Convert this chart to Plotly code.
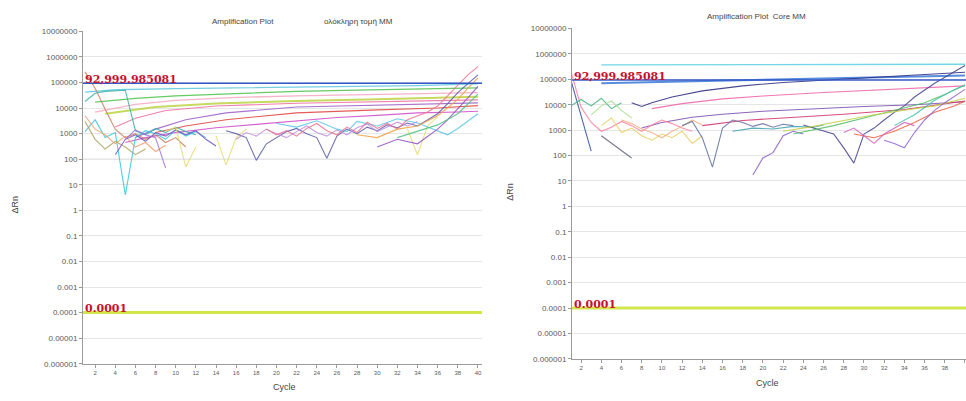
import math
import plotly.graph_objects as go

# ---------------------------------------------------------------- data
THRESHOLD = 92999.985081          # amplification threshold (ΔRn)
BASELINE_THRESHOLD = 0.0001       # lower threshold line
GUIDE_LEVEL = 100                 # highlighted reference level

CYCLE_TICKS = list(range(2, 41, 2))
RN_TICK_VALUES = [1e-6, 1e-5, 1e-4, 1e-3, 1e-2, 1e-1, 1, 10, 100, 1000,
                  10000, 100000, 1000000, 10000000]
RN_TICK_LABELS = ["0.000001", "0.00001", "0.0001", "0.001", "0.01", "0.1",
                  "1", "10", "100", "1000", "10000", "100000", "1000000",
                  "10000000"]

LEFT_TITLE = "Amplification Plot"
LEFT_SUBTITLE = "ολόκληρη τομή MM"
RIGHT_TITLE = "Amplification Plot  Core MM"

# Left panel curves: (cycle, ΔRn) pairs; None breaks the curve
left_cyan_plateau = [(1, 42000), (4, 52000), (10, 58000), (16, 62000), (22, 66000),
                     (28, 70000), (34, 75000), (40, 88000)]
left_green = [(2, 17000), (6, 24000), (10, 30000), (16, 38000), (22, 45000),
              (28, 50000), (34, 55000), (40, 62000)]
left_rose = [(2, 7000), (6, 14000), (10, 20000), (16, 26000), (22, 30000),
             (28, 33000), (34, 36000), (40, 40000)]
left_lime = [(3, 6000), (8, 11000), (14, 15000), (22, 19000), (30, 22000),
             (36, 25000), (40, 28000)]
left_pink = [(4, 1800), (6, 4000), (9, 8000), (14, 12000), (22, 15500),
             (30, 18000), (36, 19000), (40, 21000)]
left_violet = [(6, 700), (8, 1500), (11, 3500), (15, 6500), (22, 11000),
               (30, 13000), (36, 14000), (40, 16000)]
left_red = [(8, 1100), (11, 2000), (15, 3500), (22, 6500), (30, 8500),
            (36, 10000), (40, 12500)]
left_magenta = [(5, 450), (7, 700), (10, 1100), (14, 1700), (18, 2300), (22, 3200),
                (26, 4300), (30, 5200), (34, 6500), (38, 7000), (40, 7500)]
left_brown = [(1, 260000), (2, 60000), (3, 9000), (4, 1500), (5, 700), (6, 1000),
              (7, 600), (8, 900), (9, 450), (10, 700), (11, 300)]
left_teal = [(1, 18000), (2, 38000), (3, 45000), (4, 48000), (5, 50000), (6, 1300),
             (7, 900), (8, 1600), (9, 1100), (10, 1800), (11, 1200), (12, 900)]
left_cyan_spike = [(1, 1200), (2, 3500), (3, 700), (4, 1100), (5, 4), (6, 700),
                   (7, 1300), (8, 1000), (9, 600), (10, 1400), (11, 800), (12, 1200),
                   (13, 700)]
left_salmon = [(1, 5000), (2, 1500), (3, 900), (4, 400), (5, 800), (6, 300),
               (7, 450), (8, 200), (9, 350)]
left_olive = [(1, 3000), (2, 600), (3, 250), (4, 500), (5, 300), (6, 150), (7, 250)]
left_purple_noise = [(4, 150), (5, 600), (6, 900), (7, 500), (8, 1100), (9, 800),
                     (10, 1400), (11, 900), (12, 1300), (13, 600), (14, 330)]
left_violet_dip = [(5, 600), (6, 1400), (7, 900), (8, 700), (9, 45)]
left_yellow = [(9, 1200), (10, 1800), (11, 50), (12, 300), (13, None), (14, 800),
               (15, 60), (16, 700), (17, 1500), (18, None), (33, 1500), (34, 150),
               (35, 2000), (36, 4500)]
left_slate = [(15, 1300), (16, 1000), (17, 700), (18, 90), (19, 400), (20, 700),
              (21, 1200), (22, 1600), (23, 1000), (24, 700), (25, 110), (26, 800),
              (27, 1500), (28, 1000), (29, 1800), (30, 1300), (31, 2200), (32, 1700),
              (33, 2600), (34, 2000), (35, 3500), (36, 6000), (37, 15000),
              (38, 40000), (39, 90000), (40, 200000)]
left_lavender = [(16, 600), (17, 1100), (18, 800), (19, 1500), (20, 1000), (21, 700),
                 (22, 1200), (23, 2000), (24, 1100), (25, 800), (26, 1400), (27, 900),
                 (28, 1700), (29, 2400), (30, 1200), (31, 1800), (32, 2800),
                 (33, 2000), (34, 3000)]
left_cyan_noise = [(20, 2500), (22, 1800), (24, 3200), (26, 1500), (27, 1200),
                   (28, 3000), (30, 2000), (32, 3800), (34, 2600), (35, 1800),
                   (36, 1300), (37, 900), (38, 1600), (39, 3000), (40, 6000)]
left_pink_noise = [(19, 1500), (20, 900), (21, 1300), (22, 800), (23, 1600), (24, 2500),
                   (25, 1300), (26, 900), (27, 1800), (28, 1100), (29, 2800),
                   (30, 1600), (31, 2500), (32, 1500), (33, 3500), (34, 5000),
                   (35, 7000), (36, 12000), (37, 30000), (38, 80000), (39, 200000),
                   (40, 420000)]
left_orange_rise = [(28, 900), (30, 700), (32, 1500), (34, 2000), (36, 5000),
                    (38, 22000), (39, 60000), (40, 150000)]
left_purple_rise = [(30, 300), (32, 600), (34, 400), (35, 800), (36, 1500), (37, 3500),
                    (38, 9000), (39, 25000), (40, 70000)]
left_green_rise = [(32, 700), (34, 1200), (36, 2200), (38, 6000), (39, 15000),
                   (40, 35000)]

# Right panel curves
right_cyan_flat = [(4, 370000), (10, 375000), (20, 380000), (30, 385000), (40, 390000)]
right_blue = [(4, 70000), (8, 76000), (14, 85000), (20, 95000), (28, 110000),
              (34, 125000), (40, 140000)]
right_navy = [(7, 12000), (8, 8500), (9, 12000), (11, 20000), (14, 35000),
              (18, 55000), (22, 75000), (28, 100000), (34, 140000), (40, 190000)]
right_pink = [(9, 7000), (12, 11000), (16, 17000), (20, 22000), (26, 30000),
              (32, 40000), (40, 55000)]
right_purple = [(8, 1200), (10, 2000), (13, 3200), (16, 4200), (20, 5500), (25, 7000),
                (30, 8500), (35, 10000), (40, 13000)]
right_crimson = [(14, 1500), (18, 2400), (22, 3000), (28, 4200), (34, 6500),
                 (40, 14000)]
right_navy_drop = [(1, 90000), (2, 4000), (3, 150)]
right_gray_drop = [(4, 600), (5, 300), (6, 150), (7, 80)]
right_pink_drop = [(1, 200000), (2, 8000), (3, 2000), (4, 900), (5, 1300), (6, 2200),
                   (7, 1500), (8, 900), (9, 1600), (10, 2500), (11, 1800), (12, 1200),
                   (13, 900)]
right_green_squiggle = [(1, 9000), (2, 16000), (3, 9000), (4, 18000), (5, 7000),
                        (6, 12000)]
right_lightgreen = [(3, 4000), (4, 9000), (5, 14000), (6, 6000), (7, 3000)]
right_yellow = [(4, 1500), (5, 3000), (6, 800), (7, 1200), (8, 600), (9, 400),
                (10, 700), (11, 500), (12, 900), (13, 300), (14, 600)]
right_peach = [(6, 2500), (7, 1800), (8, 1100), (9, 800), (10, 500), (11, 900),
               (12, 1400), (13, 2500), (14, 1600)]
right_slate_v = [(12, 1500), (13, 2200), (14, 500), (15, 35), (16, 1200), (17, 2500),
                 (18, 2000), (19, 1400), (20, 1800), (21, 1300), (22, 1700), (23, 1500)]
right_purple_low = [(19, 17), (20, 80), (21, 130), (22, 600), (23, 900), (24, 700)]
right_teal_mid = [(17, 900), (19, 1200), (21, 1100), (23, 1400), (25, 1300), (26, 1600)]
right_navy_v = [(24, 1600), (25, 1200), (26, 900), (27, 700), (28, 200), (29, 50),
                (30, 700), (31, 1200), (32, 2500), (33, 5000), (34, 9000),
                (35, 20000), (37, 70000), (39, 200000), (40, 350000)]
right_green_rise = [(23, 700), (25, 1000), (27, 1500), (30, 3000), (33, 6000),
                    (36, 12000), (38, 25000), (40, 60000)]
right_lime_rise = [(22, 900), (25, 1400), (28, 2400), (31, 4000), (34, 6000),
                   (37, 9000), (40, 18000)]
right_teal_rise = [(33, 1500), (35, 4000), (37, 15000), (39, 40000), (40, 60000)]
right_orange_rise = [(29, 700), (31, 500), (33, 900), (35, 2000), (37, 5000),
                     (39, 9000), (40, 14000)]
right_violet_rise = [(32, 400), (33, 300), (34, 200), (35, 800), (36, 2500),
                     (37, 6000), (38, 12000), (40, 40000)]
right_magenta_noise = [(28, 800), (29, 1200), (30, 600), (31, 300), (32, 700),
                       (33, 1200), (34, 2000), (35, 1500)]

# ---------------------------------------------------------------- styling
LEFT_CURVES = [
    (left_cyan_plateau, "#5cc8dc", 1.3), (left_green, "#4cc24c", 1.3),
    (left_rose, "#f4a8c0", 1.3), (left_lime, "#bcd444", 2.0),
    (left_pink, "#f06aa0", 1.1), (left_violet, "#9a5cc4", 1.1),
    (left_red, "#e0403a", 1.1), (left_magenta, "#d048c8", 1.1),
    (left_brown, "#c88060", 1.1), (left_teal, "#3ab0a8", 1.1),
    (left_cyan_spike, "#30c8e0", 1.1), (left_salmon, "#f0a070", 1.1),
    (left_olive, "#b0a060", 1.1), (left_purple_noise, "#7050c0", 1.1),
    (left_violet_dip, "#a070d8", 1.1), (left_yellow, "#e6dc70", 1.1),
    (left_slate, "#5a5aa8", 1.1), (left_lavender, "#c090e0", 1.1),
    (left_cyan_noise, "#58c4e8", 1.1), (left_pink_noise, "#f07090", 1.1),
    (left_orange_rise, "#f0a040", 1.1), (left_purple_rise, "#9050c0", 1.1),
    (left_green_rise, "#50c080", 1.1),
]
RIGHT_CURVES = [
    (right_cyan_flat, "#58d0e4", 1.3), (right_blue, "#3c78d8", 2.0),
    (right_navy, "#2a2a80", 1.1), (right_pink, "#f060a8", 1.1),
    (right_purple, "#7a4cb0", 1.1), (right_crimson, "#d0306a", 1.1),
    (right_navy_drop, "#3050a0", 1.1), (right_gray_drop, "#606080", 1.1),
    (right_pink_drop, "#ff80a0", 1.1), (right_green_squiggle, "#40b080", 1.1),
    (right_lightgreen, "#a8e090", 1.1), (right_yellow, "#e8d060", 1.1),
    (right_peach, "#f0b080", 1.1), (right_slate_v, "#6070a0", 1.1),
    (right_purple_low, "#8a5cc8", 1.1), (right_teal_mid, "#3ca0b0", 1.1),
    (right_navy_v, "#404090", 1.1), (right_green_rise, "#50c060", 1.1),
    (right_lime_rise, "#c0d040", 1.1), (right_teal_rise, "#40c0b0", 1.1),
    (right_orange_rise, "#f06040", 1.1), (right_violet_rise, "#9060d0", 1.1),
    (right_magenta_noise, "#d060c0", 1.1),
]

W, H = 966, 401
TICK_FONT = dict(family="Liberation Sans, Arial, sans-serif", size=8, color="#5a5a5a")
TITLE_FONT = dict(family="Liberation Sans, Arial, sans-serif", size=8, color="#444444")
LABEL_FONT = dict(family="DejaVu Serif, serif", size=11, color="#c8102e",
                  weight="bold")

fig = go.Figure()


def add_curves(curves, xa, ya):
    for points, color, width in curves:
        fig.add_trace(go.Scatter(
            x=[p[0] for p in points], y=[p[1] for p in points],
            mode="lines", line=dict(color=color, width=width),
            opacity=0.85, connectgaps=False, hoverinfo="skip",
            xaxis=xa, yaxis=ya, showlegend=False))


add_curves(LEFT_CURVES, "x", "y")
add_curves(RIGHT_CURVES, "x2", "y2")

x_common = dict(tickvals=CYCLE_TICKS, tickfont=dict(TICK_FONT, size=6),
                showgrid=False, zeroline=False, showline=True,
                linecolor="#9a9a9a", ticks="outside", ticklen=3,
                tickcolor="#9a9a9a")
y_common = dict(type="log", range=[-6, 7], tickvals=RN_TICK_VALUES,
                ticktext=RN_TICK_LABELS, tickfont=TICK_FONT, showgrid=True,
                gridcolor="#e6e6e6", zeroline=False, showline=True,
                linecolor="#9a9a9a", ticks="outside", ticklen=3,
                tickcolor="#9a9a9a")

fig.update_layout(
    width=W, height=H, margin=dict(l=0, r=0, t=0, b=0),
    paper_bgcolor="white", plot_bgcolor="white", showlegend=False,
    xaxis=dict(x_common, domain=[83 / W, 482 / W], range=[0.8, 40.4], anchor="y"),
    yaxis=dict(y_common, domain=[1 - 368 / H, 1 - 28 / H], anchor="x"),
    xaxis2=dict(x_common, domain=[572 / W, 1.0], range=[1.1, 40.1], anchor="y2"),
    yaxis2=dict(y_common, domain=[1 - 363 / H, 1 - 25 / H], anchor="x2"),
)

# threshold and guide lines
for xa, ya in (("x", "y"), ("x2", "y2")):
    fig.add_shape(type="line", xref=f"{xa} domain", yref=ya, x0=0, x1=1,
                  y0=GUIDE_LEVEL, y1=GUIDE_LEVEL,
                  line=dict(color="#c6d2dc", width=1), layer="below")
    fig.add_shape(type="line", xref=f"{xa} domain", yref=ya, x0=0, x1=1,
                  y0=THRESHOLD, y1=THRESHOLD,
                  line=dict(color="#3458c8", width=1.5))
    fig.add_shape(type="line", xref=f"{xa} domain", yref=ya, x0=0, x1=1,
                  y0=BASELINE_THRESHOLD, y1=BASELINE_THRESHOLD,
                  line=dict(color="#d2e64c", width=3))
    fig.add_annotation(xref=f"{xa} domain", yref=ya, x=0, xanchor="left",
                       y=math.log10(THRESHOLD), yanchor="middle", yshift=4,
                       text=f"{THRESHOLD:,.6f}", showarrow=False, font=LABEL_FONT)
    fig.add_annotation(xref=f"{xa} domain", yref=ya, x=0, xanchor="left",
                       y=math.log10(BASELINE_THRESHOLD), yanchor="middle", yshift=4,
                       text=f"{BASELINE_THRESHOLD:.4f}", showarrow=False,
                       font=LABEL_FONT)

# titles and axis labels
def paper_text(text, px, py, font, angle=0):
    fig.add_annotation(xref="paper", yref="paper", x=px / W, y=1 - py / H,
                       xanchor="center", yanchor="middle", text=text,
                       showarrow=False, font=font, textangle=angle)


paper_text(LEFT_TITLE, 243, 18, TITLE_FONT)
paper_text(LEFT_SUBTITLE, 358, 18, TITLE_FONT)
paper_text(RIGHT_TITLE, 756, 13, TITLE_FONT)
AXIS_FONT = dict(family="Liberation Sans, Arial, sans-serif", size=9, color="#444444")
paper_text("ΔRn", 15, 205, AXIS_FONT, angle=-90)
paper_text("ΔRn", 510, 192, AXIS_FONT, angle=-90)
paper_text("Cycle", 284, 392, AXIS_FONT)
paper_text("Cycle", 767, 388, AXIS_FONT)

fig.write_html("out.html")
